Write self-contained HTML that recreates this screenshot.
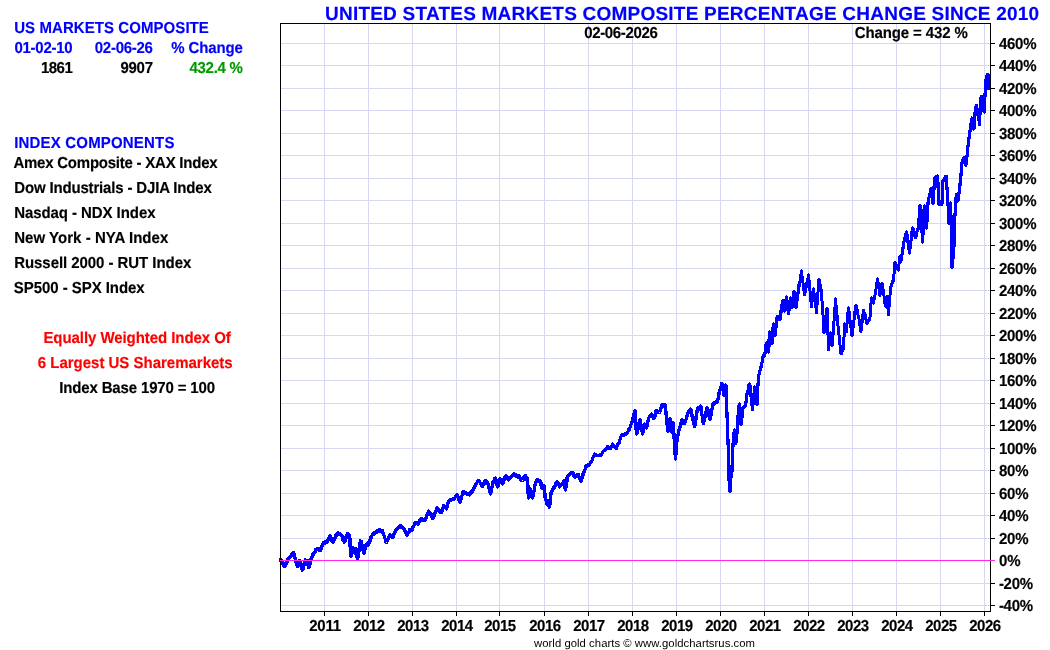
<!DOCTYPE html>
<html><head><meta charset="utf-8"><title>US Markets Composite</title>
<style>
html,body{margin:0;padding:0;background:#fff;}
body{width:1050px;height:650px;overflow:hidden;position:relative;font-family:"Liberation Sans",sans-serif;}
svg{position:absolute;left:0;top:0;}
svg text{font-family:"Liberation Sans",sans-serif;font-weight:bold;text-rendering:geometricPrecision;}
</style></head><body>
<svg width="1050" height="650" viewBox="0 0 1050 650">
<rect x="0" y="0" width="1050" height="650" fill="#fff"/>
<g stroke="#d5d7f3" stroke-width="1" shape-rendering="crispEdges">
<line x1="280" x2="990" y1="605.5" y2="605.5"/>
<line x1="280" x2="990" y1="583.5" y2="583.5"/>
<line x1="280" x2="990" y1="538.5" y2="538.5"/>
<line x1="280" x2="990" y1="515.5" y2="515.5"/>
<line x1="280" x2="990" y1="493.5" y2="493.5"/>
<line x1="280" x2="990" y1="470.5" y2="470.5"/>
<line x1="280" x2="990" y1="448.5" y2="448.5"/>
<line x1="280" x2="990" y1="425.5" y2="425.5"/>
<line x1="280" x2="990" y1="403.5" y2="403.5"/>
<line x1="280" x2="990" y1="380.5" y2="380.5"/>
<line x1="280" x2="990" y1="358.5" y2="358.5"/>
<line x1="280" x2="990" y1="335.5" y2="335.5"/>
<line x1="280" x2="990" y1="313.5" y2="313.5"/>
<line x1="280" x2="990" y1="290.5" y2="290.5"/>
<line x1="280" x2="990" y1="268.5" y2="268.5"/>
<line x1="280" x2="990" y1="245.5" y2="245.5"/>
<line x1="280" x2="990" y1="223.5" y2="223.5"/>
<line x1="280" x2="990" y1="200.5" y2="200.5"/>
<line x1="280" x2="990" y1="178.5" y2="178.5"/>
<line x1="280" x2="990" y1="155.5" y2="155.5"/>
<line x1="280" x2="990" y1="133.5" y2="133.5"/>
<line x1="280" x2="990" y1="110.5" y2="110.5"/>
<line x1="280" x2="990" y1="88.5" y2="88.5"/>
<line x1="280" x2="990" y1="65.5" y2="65.5"/>
<line x1="280" x2="990" y1="43.5" y2="43.5"/>
<line y1="23" y2="611" x1="324.5" x2="324.5"/>
<line y1="23" y2="611" x1="368.5" x2="368.5"/>
<line y1="23" y2="611" x1="412.5" x2="412.5"/>
<line y1="23" y2="611" x1="456.5" x2="456.5"/>
<line y1="23" y2="611" x1="499.5" x2="499.5"/>
<line y1="23" y2="611" x1="544.5" x2="544.5"/>
<line y1="23" y2="611" x1="588.5" x2="588.5"/>
<line y1="23" y2="611" x1="632.5" x2="632.5"/>
<line y1="23" y2="611" x1="676.5" x2="676.5"/>
<line y1="23" y2="611" x1="720.5" x2="720.5"/>
<line y1="23" y2="611" x1="764.5" x2="764.5"/>
<line y1="23" y2="611" x1="808.5" x2="808.5"/>
<line y1="23" y2="611" x1="852.5" x2="852.5"/>
<line y1="23" y2="611" x1="896.5" x2="896.5"/>
<line y1="23" y2="611" x1="940.5" x2="940.5"/>
<line y1="23" y2="611" x1="984.5" x2="984.5"/>
</g>
<polyline fill="none" stroke="#0000ff" stroke-width="3.6" stroke-linejoin="round" stroke-linecap="butt" shape-rendering="crispEdges" points="279.6,560.0 280.1,559.6 280.5,559.5 280.9,560.4 281.3,560.8 281.7,561.4 282.1,561.9 282.5,562.9 282.9,564.2 283.3,564.6 283.7,565.6 284.1,565.9 284.5,566.5 284.9,566.0 285.3,565.1 285.7,563.4 286.1,564.0 286.5,563.0 286.9,562.3 287.3,560.3 287.7,559.6 288.1,559.3 288.5,559.0 288.9,558.2 289.3,558.1 289.8,557.4 290.2,557.1 290.6,556.0 291.0,555.9 291.4,555.4 291.8,554.3 292.2,555.0 292.7,553.9 293.1,553.7 293.5,552.5 293.9,553.8 294.3,555.3 294.8,557.1 295.2,558.8 295.6,560.7 296.0,562.0 296.4,563.2 296.8,564.0 297.1,564.9 297.5,566.5 297.9,565.3 298.3,565.0 298.6,563.1 299.0,562.6 299.4,561.7 299.8,560.5 300.2,561.7 300.6,564.2 301.0,566.0 301.4,567.6 301.8,567.1 302.1,568.9 302.5,570.0 302.9,568.7 303.2,567.1 303.6,566.5 304.0,565.0 304.4,563.3 304.9,561.0 305.3,560.0 305.7,560.5 306.2,560.5 306.6,560.7 307.1,561.0 307.5,560.5 308.0,563.9 308.5,567.0 309.0,566.8 309.5,566.5 309.9,564.1 310.2,563.0 310.6,560.6 311.0,559.0 311.4,558.1 311.8,557.0 312.1,556.4 312.5,555.8 312.9,555.8 313.2,553.7 313.6,553.2 314.0,553.0 314.4,552.6 314.8,552.6 315.2,551.7 315.6,550.3 315.9,549.5 316.3,550.1 316.7,549.2 317.1,548.6 317.5,548.5 317.9,549.2 318.3,549.6 318.8,549.6 319.2,549.9 319.6,550.4 320.0,550.5 320.4,550.4 320.8,549.2 321.1,548.3 321.5,547.5 321.9,545.7 322.2,546.2 322.6,545.3 323.0,544.0 323.4,544.0 323.8,542.6 324.2,543.0 324.6,543.4 325.0,541.9 325.4,542.4 325.8,542.7 326.2,541.4 326.6,542.5 327.0,541.5 327.4,541.0 327.8,540.1 328.1,539.6 328.5,539.0 328.9,538.1 329.2,537.9 329.6,536.4 330.0,536.0 330.4,536.6 330.8,538.1 331.1,538.4 331.5,538.9 331.9,540.5 332.2,541.5 332.6,541.5 333.0,542.5 333.4,540.8 333.8,540.3 334.2,539.2 334.7,538.0 335.1,537.7 335.5,536.0 335.9,535.1 336.2,535.9 336.6,534.3 337.0,534.1 337.4,534.4 337.8,534.3 338.1,533.8 338.5,533.0 338.9,533.5 339.3,533.7 339.7,534.1 340.1,534.7 340.4,534.6 340.8,535.2 341.2,535.7 341.6,535.7 342.0,536.0 342.4,537.4 342.8,538.3 343.2,540.1 343.7,540.2 344.1,540.8 344.5,542.0 344.9,540.6 345.3,539.7 345.8,539.0 346.2,537.1 346.6,536.4 347.0,535.0 347.4,536.3 347.8,533.4 348.2,534.5 348.7,535.5 349.1,535.7 349.5,535.5 349.9,540.8 350.2,545.4 350.6,551.3 351.0,556.0 351.4,554.6 351.8,552.4 352.2,552.9 352.6,549.8 353.0,548.0 353.4,548.1 353.8,548.9 354.2,549.3 354.7,550.0 355.1,548.6 355.5,551.0 355.9,552.3 356.3,554.9 356.7,555.0 357.1,557.4 357.5,559.0 357.9,557.4 358.2,555.1 358.6,553.3 359.0,548.8 359.4,547.5 359.8,545.3 360.1,543.7 360.5,541.0 360.9,543.1 361.3,541.8 361.7,545.8 362.1,545.3 362.4,548.1 362.8,548.0 363.2,550.5 363.6,552.5 364.0,553.0 364.4,551.3 364.8,549.9 365.2,548.7 365.6,546.7 366.0,545.0 366.4,544.7 366.8,545.6 367.1,545.0 367.5,543.8 367.9,545.7 368.2,542.7 368.6,543.9 369.0,543.0 369.4,541.9 369.8,541.1 370.1,540.4 370.5,539.1 370.9,538.3 371.2,536.2 371.6,535.2"/>
<polyline fill="none" stroke="#0000ff" stroke-width="3.35" stroke-linejoin="round" stroke-linecap="butt" shape-rendering="crispEdges" points="371.6,535.2 372.0,535.0 372.4,535.0 372.8,533.9 373.2,533.6 373.6,533.1 374.0,534.1 374.4,533.6 374.8,533.6 375.2,532.1 375.6,532.3 376.0,531.4 376.4,532.1 376.8,532.2 377.2,530.6 377.6,531.6 378.0,530.5 378.4,531.1 378.8,530.5 379.2,529.5 379.6,531.5 380.0,530.7 380.5,530.4 380.9,531.0 381.3,531.1 381.7,531.7 382.1,530.4 382.5,531.0 382.9,532.7 383.3,534.0 383.7,535.2 384.1,535.5 384.5,536.4 384.9,538.4 385.3,539.1 385.7,540.3 386.1,542.1 386.5,542.5 386.9,541.5 387.3,539.6 387.7,539.6 388.1,538.0 388.4,538.5 388.8,537.3 389.2,536.0 389.6,535.4 390.0,534.5 390.4,535.3 390.8,535.2 391.1,536.1 391.5,535.7 391.9,536.6 392.2,537.2 392.6,537.5 393.0,537.0 393.4,535.8 393.8,535.7 394.1,533.4 394.5,532.9 394.9,531.6 395.2,532.3 395.6,530.2 396.0,530.0 396.4,529.5 396.8,529.0 397.2,528.6 397.6,527.9 398.0,527.9 398.4,528.2 398.8,526.9 399.2,526.7 399.6,526.4 400.0,525.5 400.4,525.8 400.8,525.7 401.2,526.3 401.6,527.3 402.0,526.6 402.4,527.4 402.8,528.3 403.2,528.6 403.6,528.7 404.0,529.0 404.4,530.1 404.8,530.7 405.1,531.0 405.5,531.6 405.9,532.8 406.2,534.2 406.6,534.5 407.0,535.5 407.4,534.5 407.8,533.8 408.1,532.9 408.5,532.7 408.9,531.6 409.2,531.5 409.6,529.8 410.0,530.0 410.4,530.1 410.8,529.8 411.2,529.3 411.6,530.3 412.0,530.0 412.4,529.0 412.8,527.4 413.1,527.1 413.5,526.6 413.9,525.5 414.2,525.0 414.6,524.1 415.0,523.0 415.4,523.3 415.8,523.2 416.2,523.7 416.6,523.5 416.9,523.5 417.3,522.5 417.7,523.8 418.1,524.0 418.5,523.5 418.9,522.5 419.3,521.6 419.8,521.8 420.2,519.4 420.6,519.5 421.0,518.5 421.4,519.7 421.8,518.5 422.2,519.4 422.6,520.1 423.0,519.4 423.4,519.9 423.8,520.3 424.2,519.7 424.6,520.3 425.0,520.5 425.4,519.6 425.8,518.8 426.2,517.3 426.6,516.2 426.9,514.7 427.3,514.0 427.7,513.6 428.1,512.1 428.5,511.0 428.9,511.2 429.3,511.9 429.7,514.5 430.1,514.4 430.5,514.8 431.0,513.6 431.4,516.1 431.8,516.7 432.2,518.1 432.6,518.1 433.0,518.5 433.4,517.4 433.8,516.7 434.2,514.2 434.6,514.9 435.0,513.4 435.4,511.8 435.8,511.9 436.2,511.2 436.6,508.2 437.0,508.0 437.4,508.1 437.8,509.1 438.2,509.5 438.6,509.6 439.0,509.7 439.4,511.9 439.8,511.7 440.2,510.9 440.6,511.3 441.0,512.5 441.4,512.6 441.8,511.4 442.1,511.0 442.5,509.7 442.9,508.0 443.2,507.8 443.6,505.7 444.0,506.0 444.4,506.1 444.8,507.0 445.2,507.8 445.7,507.6 446.1,508.4 446.5,509.0 446.9,507.6 447.3,506.0 447.7,504.5 448.1,502.7 448.5,501.0 448.9,500.7 449.3,501.1 449.7,500.6 450.1,500.0 450.5,500.0 450.9,500.1 451.2,499.9 451.6,499.9 452.0,499.7 452.4,499.7 452.8,499.4 453.2,498.7 453.6,499.3 454.0,499.0 454.4,499.0 454.8,498.2 455.1,497.4 455.5,497.2 455.9,496.0 456.2,495.1 456.6,495.5 457.0,495.0 457.4,495.5 457.8,497.2 458.1,497.3 458.5,497.5 458.9,499.2 459.2,501.4 459.6,501.4 460.0,502.5 460.4,500.4 460.8,499.4 461.1,498.6 461.5,497.3 461.9,495.7 462.2,495.0 462.6,493.2 463.0,491.5 463.4,491.7 463.8,492.3 464.2,493.1 464.7,493.0 465.1,493.3 465.5,492.4 465.9,493.2 466.3,493.9 466.8,493.6 467.2,494.6 467.6,494.6 468.0,494.5 468.4,494.7 468.8,493.8 469.2,494.9 469.6,493.9 470.0,492.8 470.5,492.6 470.9,493.6 471.3,491.8 471.7,492.1 472.1,491.8 472.5,491.0 472.9,490.2 473.3,488.9 473.7,488.7 474.1,488.0 474.4,487.6 474.8,486.7 475.2,485.6 475.6,485.1 476.0,484.0 476.4,483.7 476.8,482.9 477.2,482.3 477.7,481.6 478.1,481.4 478.5,480.5 478.9,480.7 479.3,481.5 479.7,482.5"/>
<polyline fill="none" stroke="#0000ff" stroke-width="3.5" stroke-linejoin="round" stroke-linecap="butt" shape-rendering="crispEdges" points="479.7,482.5 480.1,482.5 480.4,483.6 480.8,483.5 481.2,484.8 481.6,486.1 482.0,486.5 482.4,486.2 482.8,485.2 483.2,484.5 483.6,483.3 483.9,484.5 484.3,483.1 484.7,482.8 485.1,481.1 485.5,481.0 485.9,481.4 486.3,481.0 486.8,482.9 487.2,483.5 487.6,482.4 488.0,484.0 488.4,485.6 488.8,487.7 489.2,487.9 489.7,489.6 490.1,491.7 490.5,494.0 490.9,491.6 491.3,489.2 491.8,488.0 492.2,486.1 492.6,484.4 493.0,482.0 493.4,481.8 493.8,481.6 494.2,480.7 494.7,478.5 495.1,478.4 495.5,478.0 495.9,479.2 496.3,481.0 496.7,483.4 497.1,485.2 497.5,487.0 497.9,486.0 498.3,483.4 498.8,482.2 499.2,481.7 499.6,480.2 500.0,479.0 500.4,479.6 500.8,480.6 501.2,481.0 501.7,482.8 502.1,483.4 502.5,484.0 502.9,483.0 503.3,481.8 503.7,481.1 504.1,478.8 504.4,478.8 504.8,478.4 505.2,476.6 505.6,476.5 506.0,475.5 506.4,476.3 506.8,476.3 507.2,477.6 507.7,478.3 508.1,479.5 508.5,480.0 508.9,479.8 509.3,479.1 509.8,478.2 510.2,478.1 510.6,477.7 511.0,477.6 511.4,476.9 511.8,476.0 512.2,475.2 512.7,475.2 513.1,474.6 513.5,474.5 513.9,474.1 514.3,474.7 514.7,474.7 515.1,475.1 515.5,475.4 516.0,475.1 516.4,476.5 516.8,475.4 517.2,476.2 517.6,475.9 518.0,476.0 518.4,477.0 518.8,475.5 519.2,476.8 519.6,477.8 520.0,478.4 520.5,479.8 520.9,479.0 521.3,480.0 521.7,480.1 522.1,480.6 522.5,480.5 522.9,480.1 523.3,478.9 523.8,478.6 524.2,476.8 524.6,477.5 525.0,476.0 525.4,475.8 525.8,477.2 526.2,479.0 526.7,477.8 527.1,478.5 527.5,479.0 528.0,489.2 528.5,498.0 528.9,496.2 529.3,493.9 529.7,492.8 530.1,491.2 530.5,489.0 530.9,491.3 531.3,492.1 531.7,495.5 532.1,497.3 532.5,498.0 532.9,495.8 533.3,493.8 533.8,491.2 534.2,490.2 534.6,486.7 535.0,485.0 535.4,484.4 535.8,482.7 536.2,481.5 536.6,481.5 537.0,480.0 537.4,481.0 537.8,480.2 538.2,479.9 538.6,481.0 538.9,480.5 539.3,480.9 539.7,481.8 540.1,481.6 540.5,481.0 540.9,482.6 541.2,486.1 541.6,486.6 542.0,488.5 542.4,488.5 542.8,487.1 543.2,487.0 543.6,485.5 544.0,486.0 544.4,490.5 544.8,493.7 545.1,495.8 545.5,500.0 545.9,500.1 546.2,500.9 546.6,503.3 547.0,503.5 547.4,503.8 547.8,504.6 548.2,505.1 548.7,505.8 549.1,505.8 549.5,507.0 549.9,503.5 550.2,499.2 550.6,496.5 551.0,493.0 551.4,492.3 551.8,491.6 552.2,490.4 552.7,489.2 553.1,488.9 553.5,488.0 553.9,487.0 554.3,487.6 554.7,486.5 555.1,485.3 555.4,484.4 555.8,483.6 556.2,482.8 556.6,482.5 557.0,482.0 557.4,482.6 557.8,483.2 558.2,483.7 558.6,485.0 558.9,483.8 559.3,484.7 559.7,486.8 560.1,484.4 560.5,486.0 560.9,485.1 561.3,485.0 561.7,484.4 562.1,484.0 562.4,483.1 562.8,482.9 563.2,482.1 563.6,482.0 564.0,481.0 564.4,482.2 564.8,485.0 565.1,487.7 565.5,490.0 565.9,486.7 566.3,483.9 566.7,481.9 567.1,478.5 567.5,476.0 567.9,476.0 568.3,475.8 568.7,475.2 569.1,475.0 569.5,474.4 570.0,473.4 570.4,473.8 570.8,473.7 571.2,472.9 571.6,472.8 572.0,472.5 572.4,473.4 572.8,472.9 573.2,474.2 573.6,475.4 573.9,474.4 574.3,475.3 574.7,475.5 575.1,477.0 575.5,476.5 575.9,476.3 576.3,476.3 576.8,475.2 577.2,475.2 577.6,474.8 578.0,474.5 578.4,474.6 578.8,476.7 579.1,477.3 579.5,477.0 579.9,478.9 580.2,479.3 580.6,480.4 581.0,481.0 581.4,480.0 581.8,478.1 582.1,477.5 582.5,477.2 582.9,475.1 583.2,473.8 583.6,472.5 584.0,472.0 584.4,470.2 584.8,469.5"/>
<polyline fill="none" stroke="#0000ff" stroke-width="3.15" stroke-linejoin="round" stroke-linecap="butt" shape-rendering="crispEdges" points="584.8,469.5 585.2,468.8 585.6,467.0 586.0,465.5 586.4,465.5 586.8,466.3 587.1,465.1 587.5,465.0 587.9,465.4 588.2,465.4 588.6,464.6 589.0,465.0 589.4,464.0 589.8,464.1 590.1,463.6 590.5,462.4 590.9,462.4 591.2,461.8 591.6,461.7 592.0,461.0 592.4,459.8 592.8,458.6 593.2,457.4 593.7,456.7 594.1,455.7 594.5,454.0 594.9,454.1 595.3,454.7 595.7,454.4 596.1,454.9 596.4,455.4 596.8,455.8 597.2,455.4 597.6,455.8 598.0,456.0 598.4,455.9 598.8,455.3 599.1,455.6 599.5,455.3 599.9,455.5 600.2,454.9 600.6,454.5 601.0,455.0 601.4,454.3 601.8,453.7 602.2,452.7 602.6,452.5 603.0,451.5 603.4,451.2 603.8,450.8 604.2,450.9 604.7,450.0 605.1,450.0 605.5,450.0 605.9,449.3 606.3,448.9 606.7,447.8 607.1,447.3 607.5,446.5 607.9,446.5 608.2,447.1 608.6,447.8 609.0,447.3 609.4,448.5 609.8,447.8 610.1,448.3 610.5,448.5 610.9,447.8 611.3,447.4 611.8,445.8 612.2,444.7 612.6,445.0 613.0,444.0 613.4,444.9 613.8,445.4 614.1,446.7 614.5,446.3 614.9,446.9 615.2,447.7 615.6,448.1 616.0,448.5 616.4,448.5 616.8,446.5 617.1,446.1 617.5,444.0 617.9,445.1 618.2,443.8 618.6,443.7 619.0,442.5 619.4,442.4 619.8,440.2 620.2,438.9 620.7,437.6 621.1,436.3 621.5,435.5 621.9,435.0 622.3,435.6 622.7,435.1 623.1,435.0 623.5,434.7 623.9,435.2 624.2,434.8 624.6,434.3 625.0,434.6 625.4,434.0 625.8,433.3 626.2,434.6 626.6,433.9 627.0,433.5 627.4,432.0 627.8,432.6 628.2,431.2 628.6,429.0 629.0,430.4 629.4,428.6 629.8,428.2 630.2,426.8 630.6,425.7 631.0,425.0 631.4,422.5 631.8,422.9"/>
<polyline fill="none" stroke="#0000ff" stroke-width="3.4" stroke-linejoin="round" stroke-linecap="butt" shape-rendering="crispEdges" points="631.8,422.9 632.2,420.8 632.6,419.2 633.0,418.2 633.4,416.7 633.8,415.7 634.2,413.5 634.6,412.4 635.0,411.0 635.4,415.3 635.8,422.2 636.1,428.7 636.5,434.0 636.9,433.3 637.3,430.5 637.7,429.1 638.1,428.7 638.4,425.7 638.8,424.8 639.2,423.9 639.6,421.1 640.0,419.5 640.4,422.8 640.8,423.8 641.2,426.9 641.7,429.1 642.1,431.7 642.5,434.0 642.9,432.8 643.3,431.7 643.7,427.5 644.1,425.6 644.5,424.0 644.9,425.1 645.3,424.9 645.7,426.7 646.1,427.6 646.5,428.0 646.9,426.0 647.3,424.7 647.7,421.6 648.1,421.3 648.5,419.0 648.9,417.5 649.2,417.3 649.6,416.8 650.0,416.3 650.4,416.4 650.8,415.3 651.1,414.4 651.5,414.0 651.9,415.0 652.3,416.3 652.8,416.3 653.2,417.2 653.6,418.4 654.0,418.5 654.4,417.3 654.8,415.2 655.2,415.7 655.7,414.3 656.1,410.8 656.5,410.5 656.9,410.7 657.2,411.2 657.6,411.8 658.0,411.9 658.4,411.6 658.8,411.4 659.1,412.3 659.5,412.5 659.9,412.0 660.3,409.4 660.7,408.2 661.1,407.7 661.5,406.5 661.9,405.0 662.3,406.0 662.7,405.7 663.1,406.1 663.4,405.2 663.8,404.9 664.2,405.1 664.6,405.1 665.0,405.0 665.4,407.3 665.8,410.5 666.1,413.8 666.5,416.0 666.9,420.6 667.2,424.7 667.6,426.7 668.0,431.0 668.4,428.3 668.8,424.5 669.2,425.1 669.6,420.9 670.0,419.0 670.4,422.2 670.8,425.9 671.1,427.8 671.5,432.0 671.9,429.9 672.2,427.2 672.6,423.6 673.0,422.5 673.5,429.0 674.0,435.0 674.4,441.8 674.8,445.7 675.1,453.6 675.5,459.0 675.9,454.1 676.2,449.3 676.6,444.3 677.0,439.0 677.4,438.1 677.8,435.2 678.2,434.2 678.6,431.5 679.0,430.0 679.4,429.3 679.8,426.9 680.1,426.2 680.5,426.2 680.9,424.1 681.2,422.4 681.6,420.4 682.0,420.0 682.4,419.8 682.8,420.8 683.1,421.6 683.5,421.5 683.9,421.9 684.2,421.8 684.6,423.1 685.0,422.5 685.4,421.0 685.8,419.7 686.1,419.6 686.5,417.8 686.9,416.4 687.2,415.0 687.6,414.0 688.0,413.0 688.4,412.8 688.8,411.9 689.2,410.2 689.7,410.6 690.1,409.8 690.5,409.0 690.9,410.0 691.3,413.0 691.7,414.1 692.1,415.8 692.5,418.3 692.9,420.4 693.3,420.8 693.7,423.3 694.1,424.1 694.5,426.5 694.9,425.5 695.3,421.0 695.8,419.6 696.2,415.7 696.6,414.2 697.0,411.0 697.4,412.0 697.8,408.1 698.2,409.0 698.6,409.1 698.9,408.2 699.3,407.2 699.7,408.6 700.1,406.6 700.5,406.0 700.9,407.0 701.2,411.0 701.6,411.4 702.0,415.6 702.4,416.5 702.8,419.2 703.1,422.2 703.5,423.5 703.9,421.9 704.3,419.1 704.7,417.1 705.1,417.4 705.4,415.4 705.8,412.6 706.2,412.0 706.6,410.1 707.0,408.0 707.4,409.9 707.8,409.3 708.1,412.1 708.5,414.4 708.9,415.7 709.2,417.2 709.6,416.3 710.0,419.5 710.4,417.7 710.8,416.0 711.1,415.5 711.5,411.1 711.9,409.6 712.2,407.9 712.6,406.6 713.0,404.0 713.4,403.5 713.8,404.3 714.2,402.8 714.6,403.3 715.0,402.5 715.5,402.7 715.9,401.9 716.3,401.1 716.7,402.7 717.1,401.9 717.5,401.5 717.9,399.1 718.3,397.6 718.7,396.2 719.1,392.8 719.5,391.5 719.9,390.2 720.3,389.4 720.8,388.1 721.2,386.3 721.6,383.8 722.0,384.0 722.4,387.2 722.8,388.8 723.2,390.9 723.6,393.0 724.0,395.5 724.4,393.6 724.8,391.0"/>
<polyline fill="none" stroke="#0000ff" stroke-width="3.2" stroke-linejoin="round" stroke-linecap="butt" shape-rendering="crispEdges" points="724.8,391.0 725.2,388.5 725.6,386.6 726.0,385.0 726.5,399.6 727.0,415.0 727.4,424.6 727.8,434.2 728.1,445.4 728.5,455.0 729.0,480.0 729.5,484.8 730.0,491.5 730.5,484.2 731.0,476.0 731.5,473.3 731.9,472.0 732.3,460.0 732.8,450.0 733.1,443.7 733.5,437.0 733.9,434.5 734.3,430.0 734.6,433.1 735.0,436.0 735.4,439.2 735.8,443.5 736.3,439.8 736.8,436.0 737.2,429.1 737.6,422.0 738.0,416.3 738.4,412.6 738.8,408.6 739.2,404.0 739.7,408.9 740.1,414.6 740.5,420.3 741.0,425.0 741.4,422.1 741.8,418.8 742.2,415.2 742.6,411.2 743.0,408.0 743.4,407.7 743.8,407.1 744.2,406.8 744.7,406.5 745.1,405.1 745.5,406.0 745.9,402.8 746.2,400.0 746.6,396.3 747.0,394.0 747.4,392.6 747.8,391.5 748.2,389.6 748.5,389.7 748.9,385.0 749.3,385.3 749.7,384.0 750.1,386.4 750.5,392.0 750.9,396.8 751.3,396.8 751.7,402.3 752.1,406.2 752.5,409.5 752.9,405.5 753.2,402.4 753.6,396.7 754.0,395.1 754.3,391.0 754.7,387.0 755.1,389.9 755.5,392.4 755.9,396.2 756.2,398.3 756.6,401.7 757.0,404.5 757.4,397.0 757.8,388.7 758.1,383.1 758.5,376.0 758.9,374.6 759.3,373.5 759.8,370.9 760.2,370.0 760.6,368.9 761.0,367.0 761.4,365.1 761.8,363.9 762.1,362.4 762.5,359.0 762.9,357.4 763.3,355.7 763.8,356.6 764.2,356.1 764.6,354.6"/>
<polyline fill="none" stroke="#0000ff" stroke-width="3.4" stroke-linejoin="round" stroke-linecap="butt" shape-rendering="crispEdges" points="764.6,354.6 765.0,353.0 765.4,351.1 765.8,347.6 766.1,345.0 766.5,343.0 766.9,345.4 767.3,346.0 767.7,347.1 768.1,349.5 768.5,352.0 769.0,343.7 769.5,332.0 769.9,335.2 770.3,335.2 770.8,337.0 771.2,339.5 771.6,340.6 772.0,343.0 772.4,339.2 772.8,333.4 773.1,328.0 773.5,324.0 773.9,327.7 774.2,329.1 774.6,332.4 775.0,335.0 775.4,331.6 775.8,328.0 776.2,325.0 776.6,320.9 777.0,318.0 777.4,316.8 777.8,316.7 778.1,317.5 778.5,318.0 778.9,318.6 779.2,318.8 779.6,319.3 780.0,319.0 780.4,316.3 780.8,312.8 781.2,310.1 781.6,306.3 782.0,305.0 782.5,302.9 783.0,301.0 783.4,303.8 783.8,306.4 784.1,308.4 784.5,311.0 784.9,308.1 785.3,306.1 785.7,302.6 786.1,300.3 786.5,297.0 786.9,300.7 787.3,303.7 787.7,307.8 788.1,309.8 788.5,313.5 788.9,310.1 789.3,306.7 789.7,303.6 790.1,302.2 790.5,298.0 790.9,301.5 791.2,302.5 791.6,305.1 792.0,307.0 792.4,304.7 792.8,301.4 793.2,298.5 793.6,293.7 794.0,291.5 794.4,294.2 794.8,298.0 795.2,301.8 795.6,304.0 796.0,307.0 796.4,303.4 796.8,300.8 797.2,297.5 797.7,294.4 798.1,293.1 798.5,289.0 798.9,286.3 799.2,284.5 799.6,283.8"/>
<polyline fill="none" stroke="#0000ff" stroke-width="3.0" stroke-linejoin="round" stroke-linecap="butt" shape-rendering="crispEdges" points="799.6,283.8 800.0,280.8 800.4,278.0 800.8,275.1 801.1,273.5 801.5,271.0 801.9,275.1 802.2,277.4 802.6,280.9 803.0,283.1 803.4,286.4 803.8,288.9 804.1,292.3 804.5,295.0 804.9,293.9 805.3,290.0 805.7,289.0 806.1,287.2 806.5,284.6 806.9,282.8 807.3,281.6 807.7,280.4 808.1,277.4 808.5,275.0 808.9,279.2 809.2,281.9 809.6,288.3 810.0,291.1 810.4,295.0 810.8,298.2 811.1,303.0 811.5,307.0 811.9,302.6 812.3,299.8 812.7,296.5 813.1,292.6 813.5,289.0 813.9,292.1 814.2,294.3 814.6,298.8 815.0,300.3 815.4,302.4 815.8,306.5 816.1,309.0 816.5,312.5 816.9,306.2 817.3,301.1 817.8,296.0 818.2,289.3 818.6,284.5 819.0,279.0 819.4,282.2 819.8,283.8 820.2,285.4 820.7,287.8 821.1,289.7 821.5,292.0 821.9,298.8 822.3,306.2 822.8,312.4 823.2,317.7 823.6,326.2 824.0,333.0 824.4,329.3 824.8,327.2 825.1,323.2 825.5,320.6 825.9,318.9 826.2,313.5 826.6,310.3 827.0,308.0 827.4,317.5 827.8,327.3 828.1,338.2 828.5,350.0 828.9,346.9 829.3,342.8 829.7,338.5 830.1,335.4 830.5,333.0 830.9,336.7 831.2,339.0 831.6,342.5 832.0,346.0 832.4,341.7 832.8,337.9 833.1,333.9 833.5,328.0 833.9,322.9 834.3,316.5 834.7,310.7 835.1,306.1 835.5,299.0 835.9,304.5 836.3,307.8 836.8,312.8 837.2,317.2 837.6,321.5 838.0,326.0 838.4,329.1 838.8,332.1 839.1,336.1 839.5,338.9 839.9,344.4 840.2,347.4 840.6,349.7 841.0,354.0 841.4,354.0 841.8,352.6 842.2,349.7 842.7,351.3 843.1,349.6 843.5,348.0 844.0,337.4 844.5,324.0 844.9,325.1 845.4,328.4 845.8,330.3 846.2,332.0 846.6,328.1 847.0,324.1 847.4,320.7 847.7,315.0 848.1,311.1 848.5,308.0 848.9,310.1 849.3,313.8 849.7,316.9 850.1,320.7 850.4,323.7 850.8,326.7 851.2,329.3 851.6,332.6 852.0,336.0 852.4,333.2 852.8,329.5 853.2,325.6 853.7,321.8 854.1,319.6 854.5,315.0 854.9,312.1 855.2,310.5 855.6,308.3 856.0,305.0 856.4,306.8 856.8,309.6 857.2,310.2 857.7,313.7 858.1,315.1 858.5,317.0 858.9,318.3 859.3,322.3 859.8,323.6 860.2,327.6 860.6,328.6 861.0,331.5 861.4,327.9 861.8,324.7 862.2,320.8 862.7,317.7 863.1,313.6 863.5,310.5 863.9,312.4 864.3,313.4 864.7,315.0 865.1,314.4 865.4,318.5 865.8,319.2 866.2,319.4 866.6,322.1 867.0,323.5 867.4,323.0 867.8,322.6 868.1,320.3 868.5,321.3 868.9,319.3 869.2,320.3 869.6,317.7 870.0,317.0 870.4,312.7 870.8,307.2 871.1,302.0 871.5,298.0 871.9,299.8 872.3,300.6 872.7,302.1 873.1,302.6 873.5,303.0 873.9,300.6 874.3,297.8 874.7,296.5 875.1,294.5 875.5,293.0 875.9,289.6 876.3,287.8 876.7,284.8 877.1,281.6 877.5,279.0 877.9,281.9 878.3,284.4 878.8,287.4 879.2,290.5 879.6,293.4 880.0,295.5 880.4,292.6 880.8,289.6 881.2,289.3 881.6,286.0 882.0,283.5 882.4,286.8 882.8,287.3 883.2,290.8 883.6,293.5 883.9,295.0 884.3,298.1 884.7,301.5 885.1,304.3 885.5,306.0 885.9,304.6 886.2,300.4 886.6,297.5 887.0,296.0 887.4,301.0 887.8,305.9 888.1,310.0 888.5,314.5 888.9,308.3 889.3,304.4 889.7,299.2 890.1,293.7 890.5,288.0 890.9,286.7 891.2,286.2 891.6,285.6 892.0,283.6 892.4,281.7 892.8,282.2 893.1,281.3 893.5,280.0 893.9,275.5 894.2,271.6 894.6,266.1 895.0,262.0 895.4,262.8 895.8,263.6 896.2,265.1 896.6,266.7 896.9,266.3 897.3,268.8 897.7,269.3 898.1,269.7 898.5,270.0 899.0,263.9 899.5,257.0 899.9,259.2"/>
<polyline fill="none" stroke="#0000ff" stroke-width="3.2" stroke-linejoin="round" stroke-linecap="butt" shape-rendering="crispEdges" points="899.9,259.2 900.2,258.9 900.6,259.9 901.0,261.0 901.4,257.4 901.8,255.7 902.2,253.4 902.7,250.0 903.1,247.1 903.5,244.0 903.9,242.4 904.2,241.1 904.6,238.5 905.0,238.7 905.4,236.2 905.8,234.2 906.1,233.0 906.5,232.0 906.9,234.0 907.2,237.8 907.6,240.6 908.0,241.5 908.4,245.8 908.8,248.4 909.1,250.0 909.5,253.0 909.9,248.8 910.2,246.2 910.6,243.2 911.0,240.7 911.4,237.1 911.8,232.8 912.1,231.3 912.5,228.0 912.9,228.1 913.2,231.0 913.6,230.7 914.0,232.3 914.4,233.3 914.8,234.7 915.1,237.2 915.5,237.5 915.9,236.9 916.2,235.5 916.6,234.2 917.0,231.7 917.4,231.2 917.8,230.0 918.1,228.5 918.5,228.0 918.9,222.6 919.2,216.0 919.6,210.3 920.0,205.0 920.4,207.0 920.8,209.1 921.1,213.7 921.5,216.0 922.0,229.9 922.5,242.0 923.0,233.1 923.4,223.3 923.8,213.1 924.3,206.0 924.7,209.8 925.0,214.2 925.4,217.2 925.8,221.3 926.1,225.4 926.5,228.0 926.9,222.5 927.2,215.2 927.6,210.0 928.0,203.0 928.4,201.8 928.8,198.4 929.1,197.5 929.5,195.0 929.9,194.2 930.2,192.9 930.6,190.0 931.0,189.0 931.4,190.6 931.8,195.9 932.2,198.3 932.6,202.0 933.0,204.0 933.4,196.6 933.8,191.7 934.1,186.0 934.5,178.0 934.9,179.2 935.2,177.4 935.6,177.4 936.0,176.9 936.4,177.4 936.8,177.2 937.1,176.3 937.5,176.0 937.9,182.0 938.2,190.5 938.6,196.7 939.0,204.0 939.4,204.3 939.8,203.9 940.1,204.8 940.5,204.3 940.9,203.1 941.2,203.5 941.6,204.4 942.0,203.0 942.5,191.1 943.0,180.0 943.4,179.9 943.8,180.0 944.2,179.6 944.6,178.6 945.1,176.9 945.5,176.5 945.9,177.1 946.3,176.5 946.7,182.4 947.0,189.5 947.4,192.8 947.8,199.0 948.2,208.1 948.6,216.2 949.0,224.0 949.4,217.6 949.9,212.9 950.3,208.4 950.7,203.0 951.1,224.3 951.6,246.2 952.0,268.0 952.5,264.1 952.9,258.9 953.3,255.6 953.8,251.0 954.2,236.1 954.6,222.0 955.0,214.8 955.5,208.7 955.9,201.0 956.3,194.6 956.7,196.4 957.1,198.9 957.6,199.4 958.0,201.0 958.4,197.6 958.8,194.8 959.2,190.7 959.7,188.4 960.1,183.4 960.5,181.0 960.9,176.7 961.2,171.1 961.6,166.2 962.0,162.0 962.4,162.4 962.8,159.8 963.2,160.8 963.6,159.3 964.0,158.0 964.4,160.4 964.8,160.1 965.2,163.0 965.6,164.6 966.0,165.0 966.4,161.2 966.8,157.4 967.1,155.5 967.5,150.0 967.9,147.1 968.2,143.7 968.6,140.6 969.0,138.0 969.4,135.6 969.8,132.7 970.1,129.9 970.5,127.0 970.9,126.0 971.2,122.3 971.6,120.6 972.0,118.0 972.4,121.2 972.8,121.7 973.2,125.3 973.6,128.1 974.0,129.0 974.5,120.1 975.0,113.0 975.4,110.4 975.8,108.5 976.1,106.1 976.5,105.5 976.9,108.2 977.2,109.0 977.6,113.0 978.0,116.0 978.4,116.2 978.8,119.5 979.1,120.8 979.5,124.5 980.0,112.8 980.5,100.0 980.9,97.7 981.3,96.5 981.7,99.2 982.1,102.3 982.6,105.5 983.0,108.0 983.4,109.1 983.9,110.7 984.3,112.0 984.6,103.1 985.0,95.0 985.5,87.6 986.0,80.0 986.4,77.3 986.9,76.4 987.3,74.5 987.6,80.4 988.0,89.0 988.3,81.9 988.6,75.5 989.0,84.1 989.3,90.0"/>

<rect x="280.5" y="23.5" width="710" height="588" fill="none" stroke="#000" stroke-width="1" shape-rendering="crispEdges"/>
<g stroke="#000" stroke-width="1" shape-rendering="crispEdges">
<line x1="990" x2="995" y1="605.5" y2="605.5"/>
<line x1="990" x2="995" y1="583.5" y2="583.5"/>
<line x1="990" x2="995" y1="560.5" y2="560.5"/>
<line x1="990" x2="995" y1="538.5" y2="538.5"/>
<line x1="990" x2="995" y1="515.5" y2="515.5"/>
<line x1="990" x2="995" y1="493.5" y2="493.5"/>
<line x1="990" x2="995" y1="470.5" y2="470.5"/>
<line x1="990" x2="995" y1="448.5" y2="448.5"/>
<line x1="990" x2="995" y1="425.5" y2="425.5"/>
<line x1="990" x2="995" y1="403.5" y2="403.5"/>
<line x1="990" x2="995" y1="380.5" y2="380.5"/>
<line x1="990" x2="995" y1="358.5" y2="358.5"/>
<line x1="990" x2="995" y1="335.5" y2="335.5"/>
<line x1="990" x2="995" y1="313.5" y2="313.5"/>
<line x1="990" x2="995" y1="290.5" y2="290.5"/>
<line x1="990" x2="995" y1="268.5" y2="268.5"/>
<line x1="990" x2="995" y1="245.5" y2="245.5"/>
<line x1="990" x2="995" y1="223.5" y2="223.5"/>
<line x1="990" x2="995" y1="200.5" y2="200.5"/>
<line x1="990" x2="995" y1="178.5" y2="178.5"/>
<line x1="990" x2="995" y1="155.5" y2="155.5"/>
<line x1="990" x2="995" y1="133.5" y2="133.5"/>
<line x1="990" x2="995" y1="110.5" y2="110.5"/>
<line x1="990" x2="995" y1="88.5" y2="88.5"/>
<line x1="990" x2="995" y1="65.5" y2="65.5"/>
<line x1="990" x2="995" y1="43.5" y2="43.5"/>
<line y1="611" y2="616" x1="324.5" x2="324.5"/>
<line y1="611" y2="616" x1="368.5" x2="368.5"/>
<line y1="611" y2="616" x1="412.5" x2="412.5"/>
<line y1="611" y2="616" x1="456.5" x2="456.5"/>
<line y1="611" y2="616" x1="499.5" x2="499.5"/>
<line y1="611" y2="616" x1="544.5" x2="544.5"/>
<line y1="611" y2="616" x1="588.5" x2="588.5"/>
<line y1="611" y2="616" x1="632.5" x2="632.5"/>
<line y1="611" y2="616" x1="676.5" x2="676.5"/>
<line y1="611" y2="616" x1="720.5" x2="720.5"/>
<line y1="611" y2="616" x1="764.5" x2="764.5"/>
<line y1="611" y2="616" x1="808.5" x2="808.5"/>
<line y1="611" y2="616" x1="852.5" x2="852.5"/>
<line y1="611" y2="616" x1="896.5" x2="896.5"/>
<line y1="611" y2="616" x1="940.5" x2="940.5"/>
<line y1="611" y2="616" x1="984.5" x2="984.5"/>
</g>
<line x1="280" x2="995" y1="560.5" y2="560.5" stroke="#ff28e6" stroke-width="1" shape-rendering="crispEdges"/>
<g font-size="15" fill="#000" stroke="#000" stroke-width="0.15">
<text transform="translate(998.9,611.0) scale(1,1.06)" textLength="34.2" lengthAdjust="spacing">-40%</text>
<text transform="translate(998.9,589.0) scale(1,1.06)" textLength="34.2" lengthAdjust="spacing">-20%</text>
<text transform="translate(998.9,566.0) scale(1,1.06)" textLength="21.6" lengthAdjust="spacing">0%</text>
<text transform="translate(998.9,544.0) scale(1,1.06)" textLength="29.6" lengthAdjust="spacing">20%</text>
<text transform="translate(998.9,521.0) scale(1,1.06)" textLength="29.6" lengthAdjust="spacing">40%</text>
<text transform="translate(998.9,499.0) scale(1,1.06)" textLength="29.6" lengthAdjust="spacing">60%</text>
<text transform="translate(998.9,476.0) scale(1,1.06)" textLength="29.6" lengthAdjust="spacing">80%</text>
<text transform="translate(998.9,454.0) scale(1,1.06)" textLength="37.6" lengthAdjust="spacing">100%</text>
<text transform="translate(998.9,431.0) scale(1,1.06)" textLength="37.6" lengthAdjust="spacing">120%</text>
<text transform="translate(998.9,409.0) scale(1,1.06)" textLength="37.6" lengthAdjust="spacing">140%</text>
<text transform="translate(998.9,386.0) scale(1,1.06)" textLength="37.6" lengthAdjust="spacing">160%</text>
<text transform="translate(998.9,364.0) scale(1,1.06)" textLength="37.6" lengthAdjust="spacing">180%</text>
<text transform="translate(998.9,341.0) scale(1,1.06)" textLength="37.6" lengthAdjust="spacing">200%</text>
<text transform="translate(998.9,319.0) scale(1,1.06)" textLength="37.6" lengthAdjust="spacing">220%</text>
<text transform="translate(998.9,296.0) scale(1,1.06)" textLength="37.6" lengthAdjust="spacing">240%</text>
<text transform="translate(998.9,274.0) scale(1,1.06)" textLength="37.6" lengthAdjust="spacing">260%</text>
<text transform="translate(998.9,251.0) scale(1,1.06)" textLength="37.6" lengthAdjust="spacing">280%</text>
<text transform="translate(998.9,229.0) scale(1,1.06)" textLength="37.6" lengthAdjust="spacing">300%</text>
<text transform="translate(998.9,206.0) scale(1,1.06)" textLength="37.6" lengthAdjust="spacing">320%</text>
<text transform="translate(998.9,184.0) scale(1,1.06)" textLength="37.6" lengthAdjust="spacing">340%</text>
<text transform="translate(998.9,161.0) scale(1,1.06)" textLength="37.6" lengthAdjust="spacing">360%</text>
<text transform="translate(998.9,139.0) scale(1,1.06)" textLength="37.6" lengthAdjust="spacing">380%</text>
<text transform="translate(998.9,116.0) scale(1,1.06)" textLength="37.6" lengthAdjust="spacing">400%</text>
<text transform="translate(998.9,94.0) scale(1,1.06)" textLength="37.6" lengthAdjust="spacing">420%</text>
<text transform="translate(998.9,71.0) scale(1,1.06)" textLength="37.6" lengthAdjust="spacing">440%</text>
<text transform="translate(998.9,49.0) scale(1,1.06)" textLength="37.6" lengthAdjust="spacing">460%</text>
</g>
<g font-size="15" fill="#000" stroke="#000" stroke-width="0.15">
<text transform="translate(309.2,630.5) scale(1,1.06)" textLength="32" lengthAdjust="spacing">2011</text>
<text transform="translate(353.2,630.5) scale(1,1.06)" textLength="32" lengthAdjust="spacing">2012</text>
<text transform="translate(397.2,630.5) scale(1,1.06)" textLength="32" lengthAdjust="spacing">2013</text>
<text transform="translate(441.2,630.5) scale(1,1.06)" textLength="32" lengthAdjust="spacing">2014</text>
<text transform="translate(484.2,630.5) scale(1,1.06)" textLength="32" lengthAdjust="spacing">2015</text>
<text transform="translate(529.2,630.5) scale(1,1.06)" textLength="32" lengthAdjust="spacing">2016</text>
<text transform="translate(573.2,630.5) scale(1,1.06)" textLength="32" lengthAdjust="spacing">2017</text>
<text transform="translate(617.2,630.5) scale(1,1.06)" textLength="32" lengthAdjust="spacing">2018</text>
<text transform="translate(661.2,630.5) scale(1,1.06)" textLength="32" lengthAdjust="spacing">2019</text>
<text transform="translate(705.2,630.5) scale(1,1.06)" textLength="32" lengthAdjust="spacing">2020</text>
<text transform="translate(749.2,630.5) scale(1,1.06)" textLength="32" lengthAdjust="spacing">2021</text>
<text transform="translate(793.2,630.5) scale(1,1.06)" textLength="32" lengthAdjust="spacing">2022</text>
<text transform="translate(837.2,630.5) scale(1,1.06)" textLength="32" lengthAdjust="spacing">2023</text>
<text transform="translate(881.2,630.5) scale(1,1.06)" textLength="32" lengthAdjust="spacing">2024</text>
<text transform="translate(925.2,630.5) scale(1,1.06)" textLength="32" lengthAdjust="spacing">2025</text>
<text transform="translate(969.2,630.5) scale(1,1.06)" textLength="32" lengthAdjust="spacing">2026</text>
</g>
<text id="title" transform="translate(0,19.6) scale(1,1)" x="325.00" y="0" font-size="19" fill="#0000ff" stroke="#0000ff" stroke-width="0.15" textLength="714.18" lengthAdjust="spacing">UNITED STATES MARKETS COMPOSITE PERCENTAGE CHANGE SINCE 2010</text>
<text id="date" transform="translate(0,38) scale(1,1.06)" x="584.20" y="0" font-size="15" fill="#000" stroke="#000" stroke-width="0.15" textLength="73.53" lengthAdjust="spacing">02-06-2026</text>
<text id="chg" transform="translate(0,38) scale(1,1.06)" x="854.80" y="0" font-size="15" fill="#000" stroke="#000" stroke-width="0.15" textLength="112.94" lengthAdjust="spacing">Change = 432 %</text>
<text id="t1" transform="translate(0,33) scale(1,1.06)" x="14.20" y="0" font-size="15" fill="#0000ff" stroke="#0000ff" stroke-width="0.15" textLength="194.66" lengthAdjust="spacing">US MARKETS COMPOSITE</text>
<text id="t2a" transform="translate(0,53) scale(1,1.06)" x="14.40" y="0" font-size="15" fill="#0000ff" stroke="#0000ff" stroke-width="0.15" textLength="58.25" lengthAdjust="spacing">01-02-10</text>
<text id="t2b" transform="translate(0,53) scale(1,1.06)" x="94.80" y="0" font-size="15" fill="#0000ff" stroke="#0000ff" stroke-width="0.15" textLength="58.05" lengthAdjust="spacing">02-06-26</text>
<text id="t2c" transform="translate(0,53) scale(1,1.06)" x="171.20" y="0" font-size="15" fill="#0000ff" stroke="#0000ff" stroke-width="0.15" textLength="71.62" lengthAdjust="spacing">% Change</text>
<text id="t3a" transform="translate(0,73) scale(1,1.06)" x="41.00" y="0" font-size="15" fill="#000" stroke="#000" stroke-width="0.15" textLength="31.78" lengthAdjust="spacing">1861</text>
<text id="t3b" transform="translate(0,73) scale(1,1.06)" x="120.40" y="0" font-size="15" fill="#000" stroke="#000" stroke-width="0.15" textLength="32.58" lengthAdjust="spacing">9907</text>
<text id="t3c" transform="translate(0,73) scale(1,1.06)" x="189.40" y="0" font-size="15" fill="#009900" stroke="#009900" stroke-width="0.15" textLength="53.55" lengthAdjust="spacing">432.4 %</text>
<text id="t4" transform="translate(0,148) scale(1,1.06)" x="14.20" y="0" font-size="15" fill="#0000ff" stroke="#0000ff" stroke-width="0.15" textLength="160.22" lengthAdjust="spacing">INDEX COMPONENTS</text>
<text id="c1" transform="translate(0,168.2) scale(1,1.06)" x="13.40" y="0" font-size="15" fill="#000" stroke="#000" stroke-width="0.15" textLength="204.20" lengthAdjust="spacing">Amex Composite - XAX Index</text>
<text id="c2" transform="translate(0,193.2) scale(1,1.06)" x="14.20" y="0" font-size="15" fill="#000" stroke="#000" stroke-width="0.15" textLength="197.63" lengthAdjust="spacing">Dow Industrials - DJIA Index</text>
<text id="c3" transform="translate(0,218.2) scale(1,1.06)" x="14.20" y="0" font-size="15" fill="#000" stroke="#000" stroke-width="0.15" textLength="141.29" lengthAdjust="spacing">Nasdaq - NDX Index</text>
<text id="c4" transform="translate(0,243.2) scale(1,1.06)" x="14.20" y="0" font-size="15" fill="#000" stroke="#000" stroke-width="0.15" textLength="154.04" lengthAdjust="spacing">New York - NYA Index</text>
<text id="c5" transform="translate(0,268.2) scale(1,1.06)" x="14.20" y="0" font-size="15" fill="#000" stroke="#000" stroke-width="0.15" textLength="177.05" lengthAdjust="spacing">Russell 2000 - RUT Index</text>
<text id="c6" transform="translate(0,293.2) scale(1,1.06)" x="13.80" y="0" font-size="15" fill="#000" stroke="#000" stroke-width="0.15" textLength="130.88" lengthAdjust="spacing">SP500 - SPX Index</text>
<text id="r1" transform="translate(0,343.3) scale(1,1.06)" x="43.40" y="0" font-size="15" fill="#ff0000" stroke="#ff0000" stroke-width="0.15" textLength="187.42" lengthAdjust="spacing">Equally Weighted Index Of</text>
<text id="r2" transform="translate(0,368.2) scale(1,1.06)" x="37.80" y="0" font-size="15" fill="#ff0000" stroke="#ff0000" stroke-width="0.15" textLength="194.81" lengthAdjust="spacing">6 Largest US Sharemarkets</text>
<text id="r3" transform="translate(0,393.2) scale(1,1.06)" x="59.20" y="0" font-size="15" fill="#000" stroke="#000" stroke-width="0.15" textLength="155.88" lengthAdjust="spacing">Index Base 1970 = 100</text>
<text x="534" y="646.5" font-size="11.3" fill="#000" textLength="221" lengthAdjust="spacing" style="font-weight:normal" id="foot">world gold charts © www.goldchartsrus.com</text>
</svg>
</body></html>
